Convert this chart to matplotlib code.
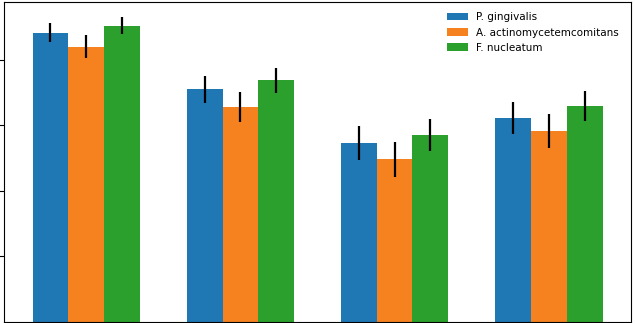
import matplotlib
matplotlib.use("Agg")
import matplotlib.pyplot as plt
import numpy as np

species = ["P. gingivalis", "A. actinomycetemcomitans", "F. nucleatum"]
colors = ["#1f77b4", "#f5821f", "#2ca02c"]

# mean values per group (4 groups) and their errors
means = [
    [4.41, 3.55, 2.73, 3.11],
    [4.20, 3.28, 2.48, 2.92],
    [4.52, 3.69, 2.85, 3.29],
]
errs = [
    [0.145, 0.21, 0.26, 0.24],
    [0.175, 0.23, 0.27, 0.26],
    [0.13, 0.19, 0.245, 0.23],
]

x = np.arange(4)
width = 0.7 / 3

fig = plt.figure(figsize=(6.35, 3.23), dpi=100)
ax = fig.add_axes([4 / 635, 1 / 323, 627 / 635, 320 / 323])

for i in range(3):
    ax.bar(x + (i - 1) * width, means[i], width, yerr=errs[i],
           color=colors[i], label=species[i],
           error_kw=dict(ecolor="black", elinewidth=1.6, capsize=0))

ax.set_xticks([])
ax.set_yticks([1, 2, 3, 4])
ax.set_yticklabels([])
ax.legend(loc="upper right", fontsize=7.5, frameon=False,
          bbox_to_anchor=(0.996, 0.997))

fig.savefig("out.png", dpi=100)
